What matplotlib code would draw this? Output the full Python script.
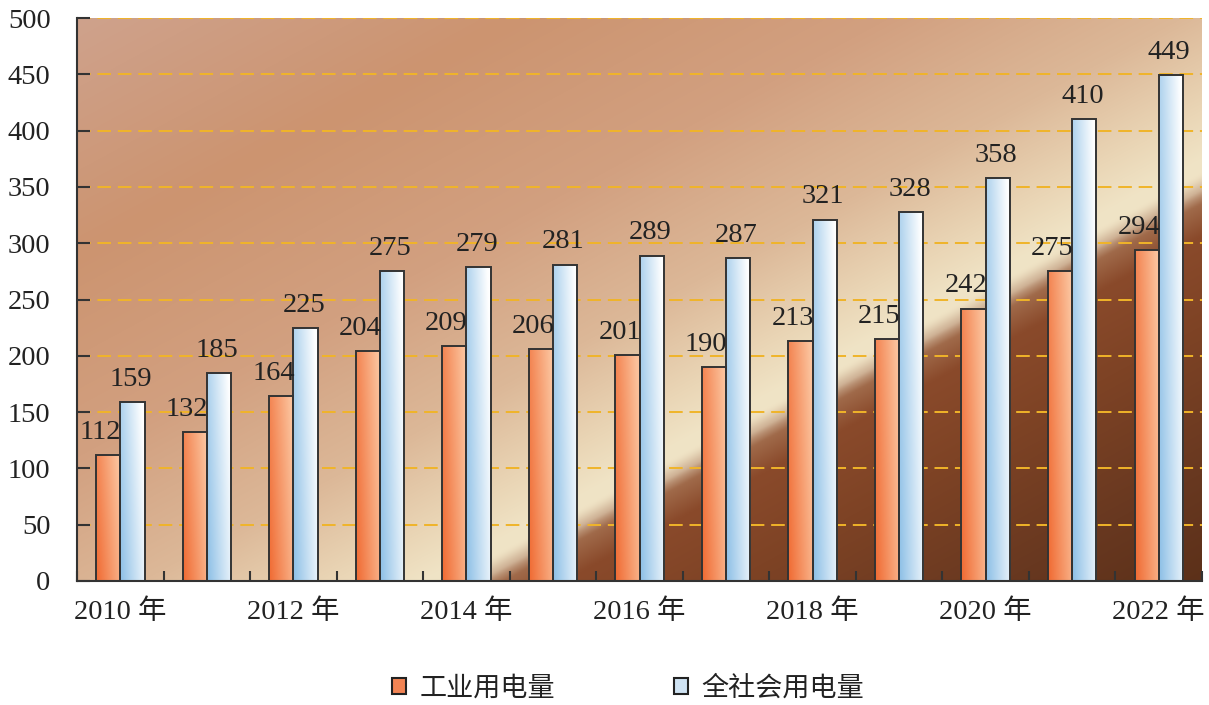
import numpy as np
import matplotlib
matplotlib.use("Agg")
import matplotlib.pyplot as plt
from matplotlib.patches import Patch

years = [2010, 2011, 2012, 2013, 2014, 2015, 2016, 2017, 2018, 2019, 2020, 2021, 2022]
tick_labels = ["2010 年", "", "2012 年", "", "2014 年", "", "2016 年", "", "2018 年", "", "2020 年", "", "2022 年"]
industrial = [112, 132, 164, 204, 209, 206, 201, 190, 213, 215, 242, 275, 294]
total = [159, 185, 225, 275, 279, 281, 289, 287, 321, 328, 358, 410, 449]
series_names = ["工业用电量", "全社会用电量"]

SERIF = ["Liberation Serif", "Noto Sans CJK SC"]
CJK = ["Noto Sans CJK SC", "DejaVu Sans"]
FS = 20.5

W, H, DPI = 1209, 705, 100
fig = plt.figure(figsize=(W / DPI, H / DPI), dpi=DPI)
L, R, T, B = 77, 1202, 18, 581
ax = fig.add_axes([L / W, 1 - B / H, (R - L) / W, (B - T) / H])

# ---------- background gradient ----------
pw, ph = R - L, B - T
nx, ny = 600, 300
X, Y = np.meshgrid(np.linspace(0, pw, nx), np.linspace(0, ph, ny))
p0 = np.array([403.0, 0.0])
d = np.array([722.0, 391.0]); d /= np.linalg.norm(d)
n = np.array([-d[1], d[0]])
s = (X - p0[0]) * n[0] + (Y - p0[1]) * n[1]

def hexrgb(h):
    h = h.lstrip('#')
    return np.array([int(h[i:i + 2], 16) / 255 for i in (0, 2, 4)])

def interp(vals, stops, cols):
    cols = np.array([hexrgb(c) for c in cols])
    out = np.zeros(vals.shape + (3,))
    for k in range(3):
        out[..., k] = np.interp(vals, stops, cols[:, k])
    return out

above = interp(s, [0, 25, 70, 160, 300, 480, 700],
               ["#efe2c4", "#f0e4c6", "#ead6b6", "#dcb898", "#d2a080", "#cc9470", "#cfa38e"])
below = interp(-s, [0, 12, 40, 120, 250, 360],
               ["#c8a88c", "#a06a4a", "#8a4a2b", "#7e4325", "#683820", "#5a2f18"])
wgt = np.clip((s + 6) / 22, 0, 1)
wgt = wgt * wgt * (3 - 2 * wgt)
img = above * wgt[..., None] + below * (1 - wgt[..., None])
ax.imshow(img, extent=(0, 1, 0, 1), transform=ax.transAxes, origin='lower',
          aspect='auto', zorder=0, interpolation='bilinear')

# ---------- bars ----------
x = np.arange(len(years))
bw = 0.28
ax.set_xlim(-0.5, len(years) - 0.5)
ax.set_ylim(0, 500)

def grad_img(c_dark, c_light):
    gx, gy = np.meshgrid(np.linspace(0, 1, 40), np.linspace(0, 1, 80))
    t = np.clip(0.8 * gx + 0.3 * gy, 0, 1)
    a, b = hexrgb(c_dark), hexrgb(c_light)
    return a[None, None, :] * (1 - t[..., None]) + b[None, None, :] * t[..., None]

org = grad_img("#f06a32", "#fbc29c")
blu = grad_img("#8cbfe6", "#ffffff")

for vals, off, g, loff in [(industrial, -bw / 2, org, -0.09), (total, bw / 2, blu, -0.02)]:
    bars = ax.bar(x + off, vals, width=bw, facecolor='none', edgecolor='#333333',
                  linewidth=1.4, zorder=4)
    for rect, v in zip(bars, vals):
        x0 = rect.get_x()
        im = ax.imshow(g, extent=(x0, x0 + bw, 0, v), origin='lower', aspect='auto',
                       zorder=3, interpolation='bilinear')
        im.set_clip_path(rect)
        ax.text(x0 + bw / 2 + loff, v + 9, str(v), ha='center', va='bottom',
                fontsize=FS, family=SERIF, color='#222222', zorder=5)

ax.set_aspect('auto')
ax.set_xlim(-0.5, len(years) - 0.5)
ax.set_ylim(0, 500)

# ---------- axes styling ----------
ax.set_axisbelow(True)
ax.yaxis.grid(True, color='#f0b429', linestyle=(0, (7, 3.5)), linewidth=1.4, zorder=1)
ax.xaxis.grid(False)
for sp in ['top', 'right']:
    ax.spines[sp].set_visible(False)
for sp in ['left', 'bottom']:
    ax.spines[sp].set_color('#333333')
    ax.spines[sp].set_linewidth(1.5)
    ax.spines[sp].set_zorder(6)

ax.set_yticks(np.arange(0, 501, 50))
ax.set_yticklabels([str(v) for v in range(0, 501, 50)], fontsize=FS, family=SERIF, color='#222222')
ax.tick_params(axis='y', direction='in', length=9, width=1.5, color='#333333', pad=19)

ax.set_xticks(x)
ax.set_xticklabels(tick_labels, fontsize=FS, family=SERIF, color='#222222')
ax.tick_params(axis='x', which='major', length=0, pad=13)
ax.set_xticks(np.arange(-0.5, len(years), 1.0), minor=True)
ax.tick_params(axis='x', which='minor', direction='in', length=7, width=1.5, color='#333333')

# ---------- legend ----------
handles = [Patch(facecolor='#f28454', edgecolor='#222222', linewidth=1.5),
           Patch(facecolor='#cfe3f3', edgecolor='#222222', linewidth=1.5)]
leg = fig.legend(handles, series_names, loc='center', bbox_to_anchor=(628 / W, 1 - 688 / H),
                 ncol=2, frameon=False, prop={'family': CJK, 'size': 19.5},
                 handlelength=0.52, handleheight=0.52, handletextpad=0.5, columnspacing=4.4)
for t in leg.get_texts():
    t.set_color('#222222')

fig.savefig("out.png", dpi=DPI)
